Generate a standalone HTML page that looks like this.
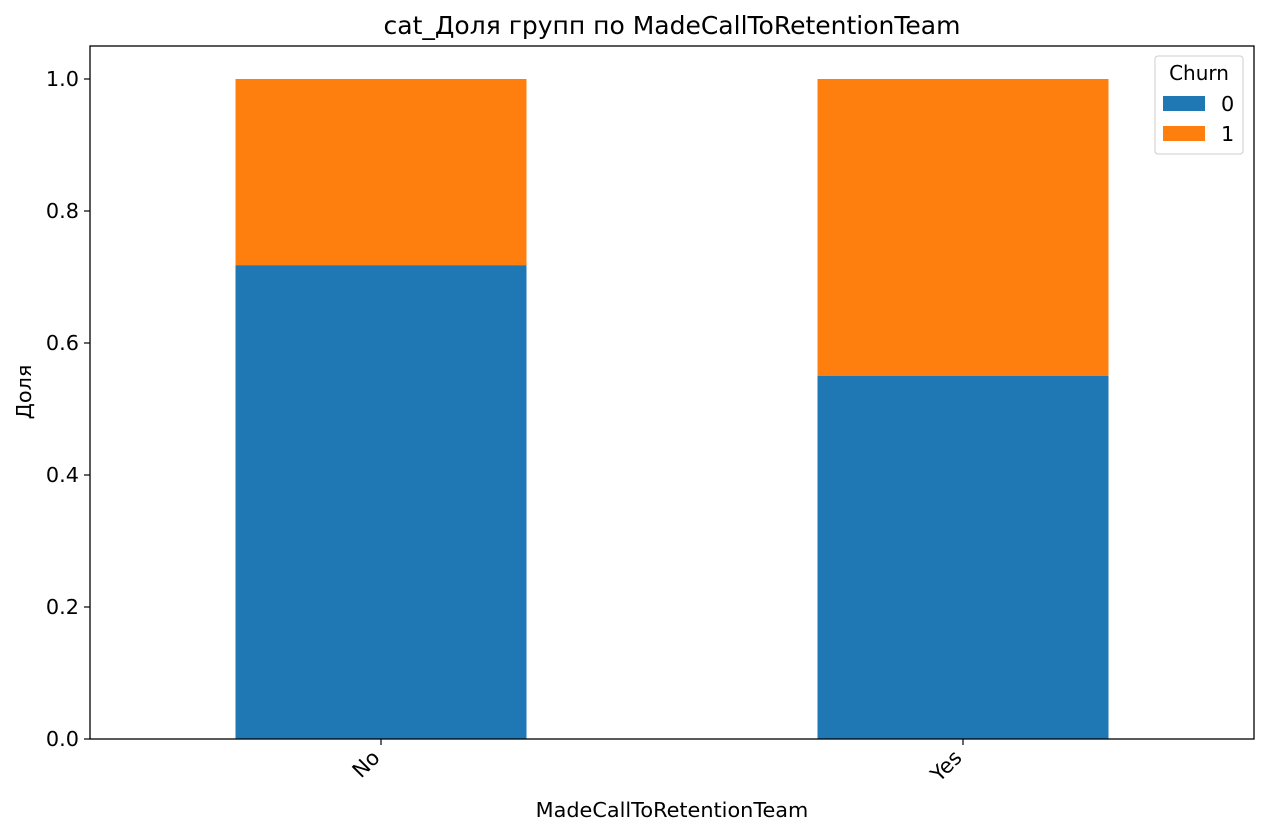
<!DOCTYPE html>
<html><head><meta charset="utf-8"><style>
body{margin:0;background:#fff;}
svg{display:block;font-family:"DejaVu Sans","Liberation Sans",sans-serif;}
</style></head><body>
<svg id="chart" width="1268" height="835">
<text x="672" y="34" font-size="25" text-anchor="middle">cat_Доля групп по MadeCallToRetentionTeam</text>
<g id="bars"></g>
<g id="yaxis"></g>
<g id="xaxis"></g>
<rect x="90" y="46" width="1164" height="693" fill="none" stroke="#000" stroke-width="1.3"/>
<text x="31" y="392" font-size="20.8" text-anchor="middle" transform="rotate(-90 31 392)">Доля</text>
<text x="672" y="817" font-size="20.8" text-anchor="middle">MadeCallToRetentionTeam</text>
<g>
<rect x="1155" y="56" width="88" height="98" rx="3" fill="#fff" stroke="#ccc"/>
<text x="1199" y="80" font-size="20" text-anchor="middle">Churn</text>
<rect x="1163" y="96" width="42" height="15" fill="#1f77b4"/>
<text x="1221" y="111" font-size="20.8">0</text>
<rect x="1163" y="126" width="42" height="15" fill="#ff7f0e"/>
<text x="1221" y="141" font-size="20.8">1</text>
</g>
</svg>
<script>
const categories=["No","Yes"];
const churn0=[0.718,0.55];
const churn1=[0.282,0.45];
const yTicks=[0,0.2,0.4,0.6,0.8,1.0];
const yTickLabels=["0.0","0.2","0.4","0.6","0.8","1.0"];
const NS="http://www.w3.org/2000/svg";
const X0=90,X1=1254,Y0=739,Y1=46;
function xs(i){return X0+(i+0.5)/categories.length*(X1-X0);}
function ys(v){return Y0-v/1.05*(Y0-Y1);}
const bw=0.5*(X1-X0)/categories.length;
function mk(t,a,p){const e=document.createElementNS(NS,t);for(const k in a)e.setAttribute(k,a[k]);p.appendChild(e);return e;}
const bars=document.getElementById('bars');
categories.forEach((c,i)=>{
 const b0=mk('rect',{x:xs(i)-bw/2,y:ys(churn0[i]),width:bw,height:ys(0)-ys(churn0[i]),fill:'#1f77b4'},bars);
 
 
 const top=churn0[i]+churn1[i];
 const b1=mk('rect',{x:xs(i)-bw/2,y:ys(top),width:bw,height:ys(churn0[i])-ys(top),fill:'#ff7f0e'},bars);
 
 
});
const ya=document.getElementById('yaxis');
yTicks.forEach((v,i)=>{
 const l=mk('line',{x1:X0-6,x2:X0,y1:ys(v),y2:ys(v),stroke:'#000','stroke-width':1.2},ya);
 
 
 const t=mk('text',{x:X0-11,y:ys(v)+7,'font-size':20.8,'text-anchor':'end'},ya);
 t.textContent=yTickLabels[i];
 
 
});
const xa=document.getElementById('xaxis');
categories.forEach((c,i)=>{
 const x=xs(i);
 const l=mk('line',{x1:x,x2:x,y1:Y0,y2:Y0+6,stroke:'#000','stroke-width':1.2},xa);
 
 
 const t=mk('text',{x:x,y:Y0+20,'font-size':20.8,'text-anchor':'end',transform:`rotate(-45 ${x} ${Y0+20})`},xa);
 t.textContent=c;
 
 
});
</script>
</body></html>
